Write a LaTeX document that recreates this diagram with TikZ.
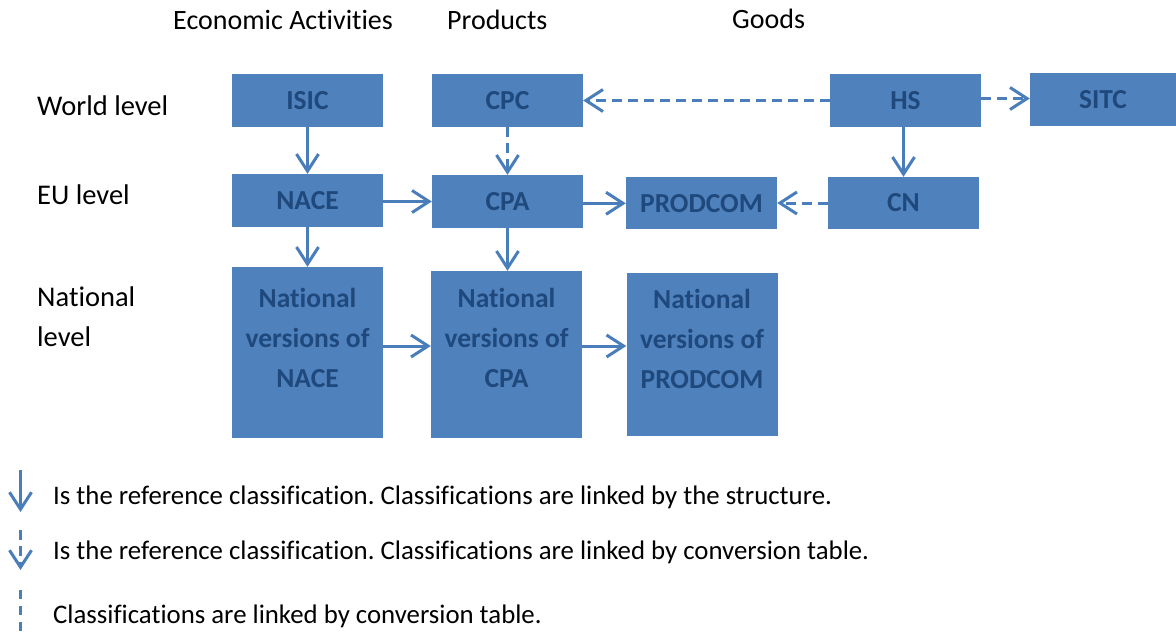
\documentclass[tikz,border=0pt]{standalone}
\usepackage{fontspec}
\setmainfont{Carlito}[Ligatures={NoCommon}]
\usetikzlibrary{arrows.meta}
\definecolor{boxfill}{HTML}{4F81BD}
\definecolor{boxtxt}{HTML}{1F497D}
\definecolor{arrc}{HTML}{4A7EBB}
\tikzset{
  box/.style={draw=none, fill=boxfill, minimum width=151pt, minimum height=53pt, inner sep=0pt,
    text=boxtxt, font=\fontsize{27.5}{40}\selectfont\bfseries, align=center},
  boxlabel/.style={inner sep=0pt, text=boxtxt, font=\fontsize{27.5}{40}\selectfont\bfseries, align=center},
  lbl/.style={inner sep=0pt, anchor=base west, font=\fontsize{28.5}{40}\selectfont, align=left},
  hdr/.style={lbl, font=\fontsize{28}{40}\selectfont},
  leg/.style={inner sep=0pt, anchor=base west, font=\fontsize{26.8}{32}\selectfont},
  arr/.style={draw=arrc, line width=3pt, -{Straight Barb[length=17pt,width=22pt]}},
  darr/.style={arr, dash pattern=on 10pt off 6pt},
  dline/.style={draw=arrc, line width=3pt, dash pattern=on 9pt off 7pt}
}
\begin{document}
\frenchspacing
\begin{tikzpicture}[x=1pt,y=-1pt]
\useasboundingbox (0,0) rectangle (1176,632);

% headers
\node[hdr] (hea) at (173,29.3) {Economic Activities};
\node[hdr] (hpr) at (447,29.3) {Products};
\node[hdr] (hgo) at (732,28.8) {Goods};

% level labels
\node[lbl] (lw) at (37,115) {World level};
\node[lbl] (le) at (37,204.3) {EU level};
\node[lbl] (ln) at (37,346.7) {National\\level};

% boxes
\node[box] (isic) at (307.5,100.5) {ISIC};
\node[box] (cpc) at (507.5,100.5) {CPC};
\node[box] (hs) at (905.5,100.5) {HS};
\node[box, minimum width=146pt] (sitc) at (1103,99.2) {SITC};
\node[box] (nace) at (307.5,200.5) {NACE};
\node[box] (cpa) at (507.5,201.5) {CPA};
\node[box, minimum height=52pt] (prodcom) at (701.5,203.3) {PRODCOM};
\node[box, minimum height=52pt] (cn) at (903.5,203) {CN};

\node[box, minimum height=171pt] (nnace) at (307.5,352.5) {};
\node[box, minimum height=167pt] (ncpa) at (506.5,354.5) {};
\node[box, minimum height=163pt] (nprod) at (702,354) {};
\node[boxlabel] (nnacet) at (307.5,338) {National\\versions of\\NACE};
\node[boxlabel] (ncpat) at (506.5,337.5) {National\\versions of\\CPA};
\node[boxlabel] (nprodt) at (702,338.5) {National\\versions of\\PRODCOM};

% connectors
\draw[arr] (isic) -- (nace);
\draw[darr] (cpc) -- (cpa);
\draw[arr] (nace.east |- cpa.west) -- (cpa.west);
\draw[arr] (cpa.east |- prodcom.east) -- (prodcom.west);
\draw[darr] (cn.west) -- (cn.west -| prodcom.east);
\draw[darr] (hs.west) -- (hs.west -| cpc.east);
\draw[darr] ([yshift=2pt]hs.east) -- ([yshift=2pt]hs.east -| sitc.west);
\draw[arr] (hs.south -| cn.north) -- (cn.north);
\draw[arr] (nace) -- (nnace);
\draw[arr] (cpa.south) -- (cpa.south |- ncpa.north);
\coordinate (a1) at ([yshift=6.5pt]nnace.east);
\draw[arr] (a1) -- (a1 -| ncpa.west);
\coordinate (a2) at ([yshift=8.5pt]ncpa.east);
\draw[arr] (a2) -- (a2 -| nprod.west);

% legend
\coordinate (l1a) at (20.5,470);
\coordinate (l1b) at (20.5,512);
\draw[arr] (l1a) -- (l1b);
\coordinate (l2a) at (20.5,530);
\coordinate (l2b) at (20.5,570);
\draw[darr] (l2a) -- (l2b);
\coordinate (l3a) at (20.5,590);
\coordinate (l3b) at (20.5,632);
\draw[dline] (l3a) -- (l3b);
\node[leg] (t1) at (53,504) {Is the reference classification. Classifications are linked by the structure.};
\node[leg] (t2) at (53,559.3) {Is the reference classification. Classifications are linked by conversion table.};
\node[leg] (t3) at (53,623.3) {Classifications are linked by conversion table.};
\end{tikzpicture}
\end{document}
